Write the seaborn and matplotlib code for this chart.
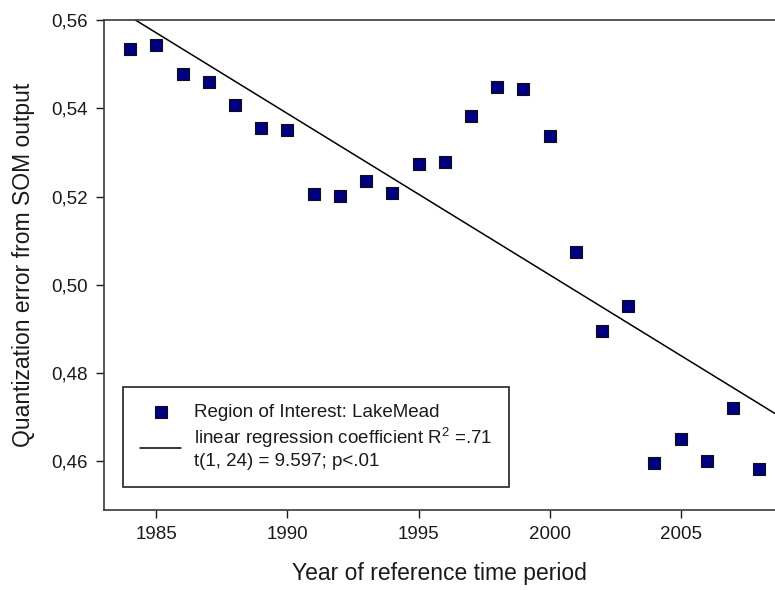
import matplotlib
matplotlib.use("Agg")
import matplotlib.pyplot as plt
import matplotlib.ticker as mticker
import seaborn as sns
import pandas as pd
import numpy as np

years = [1984, 1985, 1986, 1987, 1988, 1989, 1990, 1991, 1992, 1993, 1994, 1995,
         1996, 1997, 1998, 1999, 2000, 2001, 2002, 2003, 2004, 2005, 2006, 2007, 2008]
qe = [0.5534, 0.5543, 0.5478, 0.5460, 0.5408, 0.5356, 0.5351, 0.5206, 0.5202, 0.5236,
      0.5209, 0.5274, 0.5279, 0.5383, 0.5448, 0.5444, 0.5338, 0.5075, 0.4896, 0.4951,
      0.4596, 0.4650, 0.4602, 0.4720, 0.4582]
x_ticks = [1985, 1990, 1995, 2000, 2005]
y_ticks = [0.46, 0.48, 0.50, 0.52, 0.54, 0.56]
series_label = "Region of Interest: LakeMead"
fit_label = "linear regression coefficient R$^2$ =.71\nt(1, 24) = 9.597; p<.01"

df = pd.DataFrame({"year": years, "qe": qe})

sns.set_style("ticks")
plt.rcParams["font.family"] = ["Liberation Sans", "DejaVu Sans"]
plt.rcParams["mathtext.fontset"] = "custom"
plt.rcParams["mathtext.rm"] = "Liberation Sans"
plt.rcParams["text.color"] = "#1a1a1a"
plt.rcParams["axes.labelcolor"] = "#1a1a1a"
plt.rcParams["xtick.color"] = "#1a1a1a"
plt.rcParams["ytick.color"] = "#1a1a1a"

fig = plt.figure(figsize=(7.75, 5.9), dpi=100)
ax = fig.add_axes([104 / 775, 80 / 590, 671 / 775, 490 / 590])
ax.set_xlim(1983, 2008.6)
ax.set_ylim(0.449, 0.56)

sns.scatterplot(data=df, x="year", y="qe", ax=ax, marker="s", s=75,
                color="#000080", edgecolor="#111111", linewidth=0.8,
                label=series_label, zorder=3)
n_before = len(ax.lines)
sns.regplot(data=df, x="year", y="qe", ax=ax, scatter=False, ci=None,
            truncate=False, color="black", line_kws={"linewidth": 1.1})
fit_line = ax.lines[n_before]
fit_line.set_label(fit_label)

ax.set_xlim(1983, 2008.6)
ax.set_ylim(0.449, 0.56)
ax.set_xticks(x_ticks)
ax.set_yticks(y_ticks)
ax.yaxis.set_major_formatter(mticker.FuncFormatter(lambda v, p: f"{v:.2f}".replace(".", ",")))
ax.tick_params(axis="both", labelsize=13.5, length=5.5, width=1.0, direction="out", pad=6)
ax.tick_params(top=False, right=False)

for side in ["left", "bottom", "top"]:
    ax.spines[side].set_color("#3a3a3a")
    ax.spines[side].set_linewidth(1.2)
    ax.spines[side].set_visible(True)
ax.spines["right"].set_visible(False)

ax.set_xlabel("Year of reference time period", fontsize=16.5, labelpad=14)
ax.set_ylabel("Quantization error from SOM output", fontsize=16.5, labelpad=12)

handles, labels = ax.get_legend_handles_labels()
leg = ax.legend(handles=handles, labels=labels, loc="upper left",
                bbox_to_anchor=(19 / 671, 123 / 490),
                fontsize=13.5, frameon=True, fancybox=False, framealpha=1,
                edgecolor="#222222", borderpad=0.9, handlelength=2.2,
                handletextpad=0.7, labelspacing=0.25, borderaxespad=0)
leg.get_frame().set_linewidth(1.2)

fig.savefig("out.png", dpi=100)
